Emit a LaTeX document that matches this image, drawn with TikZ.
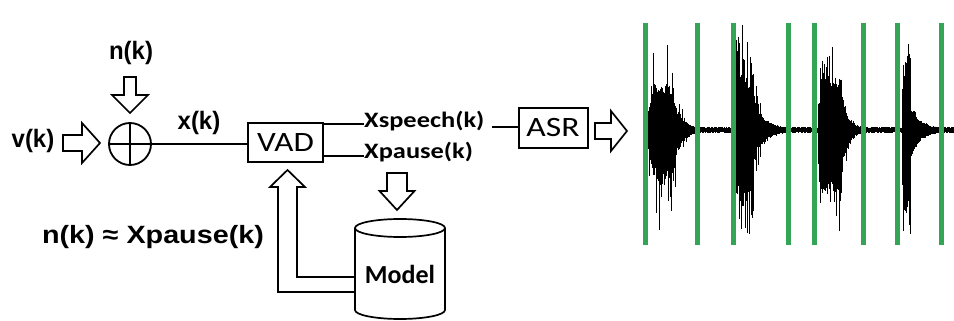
\documentclass[tikz,border=0pt]{standalone}
\usepackage{fontspec}
\setmainfont{Liberation Sans}
\newfontfamily\calfont{Carlito}
\begin{document}
\begin{tikzpicture}[x=1pt,y=-1pt,
  ln/.style={line width=1.7pt, black},
  blockarr/.style={line width=1.7pt, black, line join=miter, fill=white},
  lbl/.style={inner sep=0pt, font=\bfseries\fontsize{24}{26}\selectfont},
  cal/.style={inner sep=0pt, font=\calfont\fontsize{22}{24}\selectfont},
  boxn/.style={draw, line width=1.7pt, inner sep=0pt},
  wave/.style={line width=0.9pt, black, line cap=butt},
  vad/.style={line width=5pt, draw=vadgreen}]
\definecolor{vadgreen}{RGB}{52,165,85}
\useasboundingbox (0,0) rectangle (954,321);
\fill[white] (0,0) rectangle (954,321);

% --- labels and blocks
\node[lbl, yscale=1.05] (nk) at (131,53) {n(k)};
\node[lbl, yscale=1.05] (vk) at (33,141) {v(k)};
\node[lbl, yscale=1.05] (xk) at (199,123) {x(k)};
\node[draw, circle, line width=1.8pt, minimum size=42pt, inner sep=0pt] (sum) at (130,144) {};
\draw[ln] (sum.north) -- (sum.south);
\draw[ln] (sum.west) -- (sum.east);

\node[boxn, minimum width=75pt, minimum height=39pt] (vadbox) at (285.5,142.5) {};
\node[cal, font=\calfont\fontsize{28}{30}\selectfont, xscale=1.18] (vadt) at (285.5,142.5) {VAD};

\node[cal, font=\calfont\bfseries\fontsize{22}{24}\selectfont, xscale=1.2, anchor=west] (xs) at (364,121) {Xspeech(k)};
\node[cal, font=\calfont\bfseries\fontsize{22}{24}\selectfont, xscale=1.2, anchor=west] (xp) at (364,152) {Xpause(k)};

\node[boxn, minimum width=69pt, minimum height=40pt] (asrbox) at (553.5,128) {};
\node[cal, font=\calfont\fontsize{28}{30}\selectfont, xscale=1.2] (asrt) at (553,128) {ASR};

\node[lbl, font=\bfseries\fontsize{25}{27}\selectfont, xscale=1.15] (approx) at (153,237) {n(k) ≈ Xpause(k)};

% --- connectors
\draw[ln] (sum.east) -- (vadbox.west |- sum.east);
\coordinate (vadT) at (323,124);
\coordinate (vadB) at (323,156);
\draw[ln] (vadT) -- (xs.west |- vadT);
\draw[ln] (vadB) -- (xp.west |- vadB);
\coordinate (xsE) at (492,127);
\draw[ln] (xsE) -- (asrbox.west |- xsE);

% n(k) down arrow
\draw[blockarr] (130,113) -- (112,95) -- (124,95) -- (124,77) -- (136,77) -- (136,95) -- (148,95) -- cycle;
% v(k) right arrow
\draw[blockarr] (100,143) -- (82,123) -- (82,135) -- (63,135) -- (63,151) -- (82,151) -- (82,163) -- cycle;
% ASR right arrow
\draw[blockarr] (627,131) -- (611,111) -- (611,123) -- (595,123) -- (595,139) -- (611,139) -- (611,151) -- cycle;
% Xpause down arrow
\draw[blockarr] (397,210) -- (379.5,191) -- (387,191) -- (387,173) -- (407,173) -- (407,191) -- (414.5,191) -- cycle;

% --- cylinder (Model)
\draw[ln, fill=white] (355,228) -- (355,310) arc[start angle=180, end angle=360, x radius=45, y radius=-9] -- (445,228);
\draw[ln] (400,228) ellipse [x radius=45, y radius=9];
\node[cal, font=\calfont\bfseries\fontsize{26}{28}\selectfont] (model) at (400,274) {Model};

% L-shaped up arrow from Model to VAD
\draw[ln, line join=miter] (355,277) -- (297,277) -- (297,187) -- (305,187) -- (287.5,170) -- (270,187) -- (278,187) -- (278,292) -- (355,292);

% --- waveform
\pgfmathsetseed{11}
\gdef\prevt{0.5}\gdef\prevb{0.5}
\newcommand\burst[9]{%
  \pgfmathtruncatemacro\NN{(#4-#1)*2}%
  \foreach \k in {0,...,\NN}{%
    \pgfmathsetmacro\xx{#1+\k*0.5}%
    \pgfmathsetmacro\ee{\xx<#2 ? 0.45+0.55*(\xx-#1)/(#2-#1) : (\xx<#3 ? 1 : #6*exp(-(\xx-#3)/#5))}%
    \pgfmathsetmacro\st{0.55*\prevt+0.45*rnd}\xdef\prevt{\st}%
    \pgfmathsetmacro\sb{0.55*\prevb+0.45*rnd}\xdef\prevb{\sb}%
    \pgfmathsetmacro\tp{\ee*(#9*#7*(0.45+0.55*\st)+(1-#9)*#7*rnd^9)+1.8}%
    \pgfmathsetmacro\bt{\ee*(#9*#8*(0.45+0.55*\sb)+(1-#9)*#8*rnd^9)+1.8}%
    \draw[wave] (\xx,{130-\tp}) -- (\xx,{130+\bt});
  }}
% noise baseline
\foreach \k in {0,...,616}{%
  \pgfmathsetmacro\xx{645+\k*0.5}%
  \pgfmathsetmacro\tp{1.8+1.4*rnd}%
  \pgfmathsetmacro\bt{1.8+1.4*rnd}%
  \draw[wave] (\xx,{130-\tp}) -- (\xx,{130+\bt});
}
\burst{648}{653}{674}{700}{7}{0.7}{97}{118}{0.5}
\burst{735}{736}{754}{790}{9}{0.5}{124}{135}{0.58}
\burst{818}{822}{842}{866}{6}{0.6}{107}{137}{0.55}
\burst{902}{903.5}{911}{942}{9}{0.32}{107}{127}{0.78}

% --- green VAD marks
\foreach \gx [count=\gi] in {645,697,733,788,814,863,897,941}{
  \coordinate (g\gi t) at (\gx,23);
  \coordinate (g\gi b) at (\gx,245);
  \draw[vad] (g\gi t) -- (g\gi b);
}
\end{tikzpicture}
\end{document}
